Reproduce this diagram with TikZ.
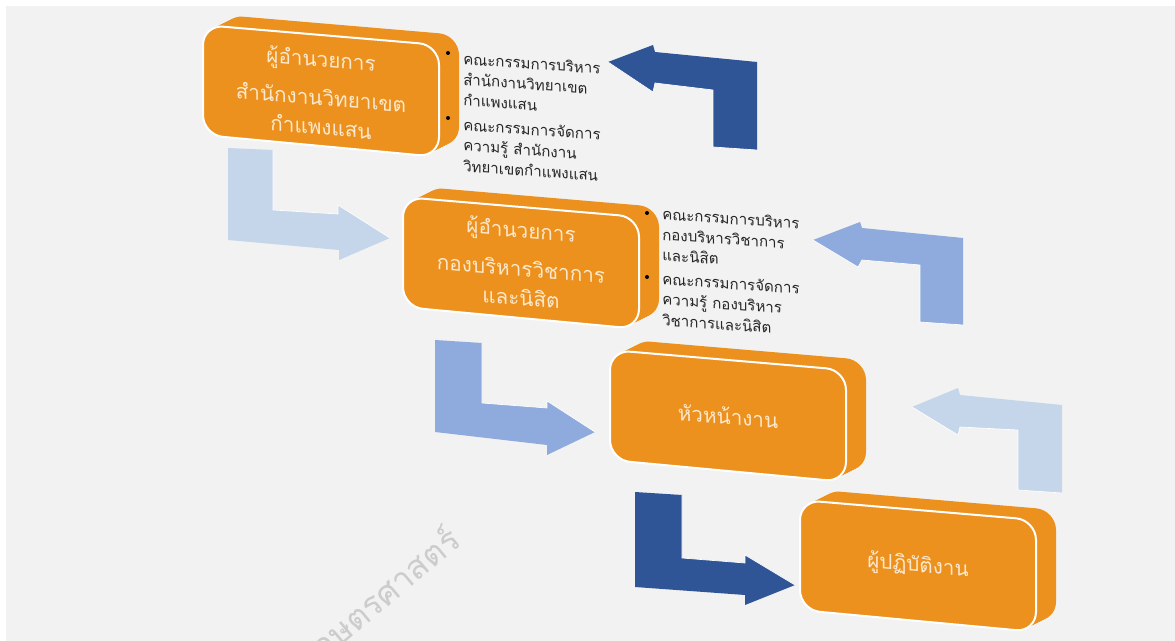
\documentclass[tikz,border=0pt]{standalone}
\usepackage{fontspec}
\newfontfamily\thaifont[Script=Thai]{Loma}
\definecolor{boxorange}{RGB}{236,145,30}
\definecolor{boxtext}{RGB}{252,232,205}
\definecolor{arrowlight}{RGB}{197,213,234}
\definecolor{arrowmid}{RGB}{143,170,220}
\definecolor{arrowdark}{RGB}{47,85,151}
\definecolor{pagegray}{RGB}{242,242,242}
\tikzset{
  boxface/.style={fill=boxorange, rounded corners=15pt},
  boxtitle/.style={text=boxtext, font=\thaifont\fontsize{15.5}{22}\selectfont, align=center, yslant=-0.085},
  sidenote/.style={text=black!85, font=\thaifont\fontsize{11.3}{15.5}\selectfont, align=left, anchor=north west, inner sep=0pt, yslant=-0.07},
  bentarrow/.style={draw=white, line width=0.5pt},
  bulletdot/.style={circle, fill=black, inner sep=0pt, minimum size=3pt}
}
\begin{document}
\begin{tikzpicture}[x=0.75pt, y=-0.75pt]
    % page and background
    \clip (0,0) rectangle (1175,641);
    \fill[white] (0,0) rectangle (1175,641);
    \fill[pagegray] (6,6) rectangle (1175,641);

    % watermark
    \node[text=gray!40, font=\thaifont\fontsize{25}{25}\selectfont, rotate=40, anchor=base east, inner sep=0pt] (mark) at (463,544) {เกษตรศาสตร์};

    % the four blocks
    \foreach \n/\bx/\by in {1/203/25, 2/403/197, 3/610/350, 4/800/500}{
        \foreach \k in {10,9,...,1}
            \fill[boxface, shift={(2*\k,-\k)}] (\bx,\by) -- ++(236,20) -- ++(0,112) -- ++(-236,-22) -- cycle;
        \draw[boxface, draw=white, line width=1.5pt] (\bx,\by) -- ++(236,20) -- ++(0,112) -- ++(-236,-22) -- cycle;
        \coordinate (blk\n) at (\bx+118,\by+66);
    }

    % block titles
    \node[boxtitle] (title1) at ([yshift=-1pt]blk1) {ผู้อำนวยการ\\[7pt]สำนักงานวิทยาเขต\\กำแพงแสน};
    \node[boxtitle] (title2) at (blk2) {ผู้อำนวยการ\\[7pt]กองบริหารวิชาการ\\และนิสิต};
    \node[boxtitle] (title3) at (blk3) {หัวหน้างาน};
    \node[boxtitle] (title4) at (blk4) {ผู้ปฏิบัติงาน};

    % committees beside the blocks
    \node[bulletdot] (dot1a) at (448,53) {};
    \node[bulletdot] (dot1b) at (448,118) {};
    \node[sidenote] (note1a) at (463,52) {คณะกรรมการบริหาร\\สำนักงานวิทยาเขต\\กำแพงแสน};
    \node[sidenote] (note1b) at (463,118) {คณะกรรมการจัดการ\\ความรู้ สำนักงาน\\วิทยาเขตกำแพงแสน};
    \node[bulletdot] (dot2a) at (647,213) {};
    \node[bulletdot] (dot2b) at (647,277) {};
    \node[sidenote] (note2a) at (662,207) {คณะกรรมการบริหาร\\กองบริหารวิชาการ\\และนิสิต};
    \node[sidenote] (note2b) at (662,272) {คณะกรรมการจัดการ\\ความรู้ กองบริหาร\\วิชาการและนิสิต};

    % arrows going down
    \fill[arrowlight] (228,148) -- (273,150) -- (273,210) -- (338,214) -- (338,205) -- (390,238) -- (339,260) -- (339,250) -- (228,240) -- cycle;
    \draw[bentarrow] (273,150) -- (273,210) -- (338,214) -- (338,205) -- (390,238);
    \fill[arrowmid] (435,340) -- (482,343) -- (482,403) -- (547,408) -- (547,401) -- (595,432) -- (547,455) -- (547,445) -- (435,432) -- cycle;
    \draw[bentarrow] (482,343) -- (482,403) -- (547,408) -- (547,401) -- (595,432);
    \fill[arrowdark] (635,492) -- (682,495) -- (682,558) -- (745,563) -- (745,555) -- (795,585) -- (745,605) -- (745,595) -- (635,587) -- cycle;
    \draw[bentarrow] (682,495) -- (682,558) -- (745,563) -- (745,555) -- (795,585);

    % arrows going back up
    \fill[arrowdark] (608,62) -- (653,45) -- (655,52) -- (757,62) -- (757,150) -- (713,147) -- (713,90) -- (655,83) -- (653,92) -- cycle;
    \draw[bentarrow] (608,62) -- (653,92) -- (655,83) -- (713,90) -- (713,147) -- (757,150);
    \fill[arrowmid] (813,240) -- (860,222) -- (862,228) -- (963,238) -- (963,325) -- (920,322) -- (920,265) -- (862,260) -- (858,267) -- cycle;
    \draw[bentarrow] (813,240) -- (858,267) -- (862,260) -- (920,265) -- (920,322) -- (963,325);
    \fill[arrowlight] (912,407) -- (958,388) -- (960,395) -- (1062,405) -- (1062,493) -- (1018,490) -- (1018,430) -- (960,427) -- (958,435) -- cycle;
    \draw[bentarrow] (912,407) -- (958,435) -- (960,427) -- (1018,430) -- (1018,490) -- (1062,493);
\end{tikzpicture}
\end{document}
